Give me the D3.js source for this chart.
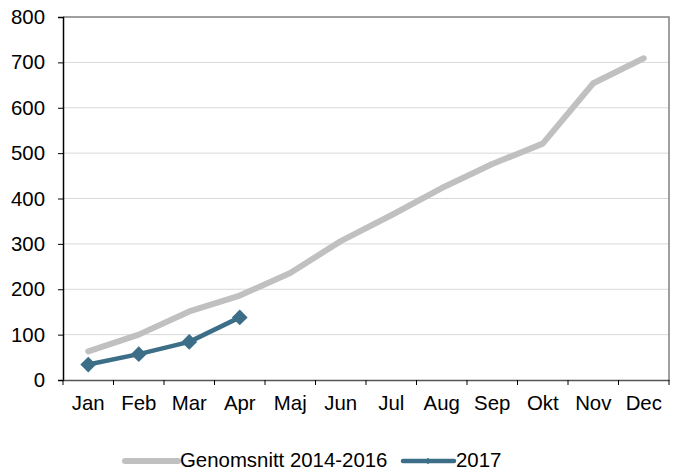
<!DOCTYPE html>
<html><head><meta charset="utf-8">
<script src="https://cdn.jsdelivr.net/npm/d3@7"></script>
<style>body{margin:0;background:#fff}text{font-family:"Liberation Sans",Arial,sans-serif}</style>
</head><body><svg id="c" width="678" height="473"></svg>
<script>
const months = ["Jan","Feb","Mar","Apr","Maj","Jun","Jul","Aug","Sep","Okt","Nov","Dec"];
const avgValues = [63,100,151,186,236,306,363,423,476,521,654,709];
const y2017Values = [34,57,84,138];
const yTicks = [0,100,200,300,400,500,600,700,800];
const seriesNames = ["Genomsnitt 2014-2016","2017"];

const svg = d3.select("#c");
const L=63,R=669,T=17,B=380;
const FS=20.4;
const x = d3.scaleBand().domain(months).range([L,R]);
const y = d3.scaleLinear().domain([0,800]).range([B,T]);

svg.append("g").selectAll("line").data(yTicks.filter(d=>d>0&&d<800)).join("line")
  .attr("x1",L).attr("x2",R).attr("y1",d=>y(d)).attr("y2",d=>y(d))
  .attr("stroke","#d9d9d9").attr("stroke-width",1);
svg.append("path").attr("d",`M${L},${T}H${R}V${B}`).attr("fill","none").attr("stroke","#808080").attr("stroke-width",1.5);

const ya = svg.append("g").attr("transform",`translate(${L},0)`)
  .call(d3.axisLeft(y).tickValues(yTicks).tickSize(5).tickPadding(13));
ya.select(".domain").attr("stroke","#000").attr("stroke-width",1.5);
ya.selectAll(".tick line").attr("stroke","#000");
ya.selectAll("text").attr("font-size",FS).attr("fill","#000").attr("font-family","Liberation Sans, Arial, sans-serif");

const xa = svg.append("g").attr("transform",`translate(0,${B})`)
  .call(d3.axisBottom(x).tickSize(0).tickPadding(16));
xa.select(".domain").attr("stroke","#555").attr("stroke-width",1.5);
xa.selectAll("text").attr("font-size",FS).attr("fill","#000").attr("font-family","Liberation Sans, Arial, sans-serif");
const bounds = months.map(m=>x(m)).concat([R]);
svg.append("g").selectAll("line").data(bounds).join("line")
  .attr("x1",d=>d).attr("x2",d=>d).attr("y1",B).attr("y2",B+5).attr("stroke","#000");

const cx = m=>x(m)+x.bandwidth()/2;
const line = d3.line().x((d,i)=>cx(months[i])).y(d=>y(d));
svg.append("path").datum(avgValues).attr("d",line).attr("fill","none")
  .attr("stroke","#c0c0c0").attr("stroke-width",6).attr("stroke-linecap","round").attr("stroke-linejoin","round");
svg.append("path").datum(y2017Values).attr("d",line).attr("fill","none")
  .attr("stroke","#3c6f87").attr("stroke-width",4.5).attr("stroke-linejoin","round");
svg.append("g").selectAll("path").data(y2017Values).join("path")
  .attr("transform",(d,i)=>`translate(${cx(months[i])},${y(d)}) rotate(45)`)
  .attr("d",d3.symbol().type(d3.symbolSquare).size(125)).attr("fill","#3c6f87");

const lg = svg.append("g");
lg.append("line").attr("x1",125).attr("x2",178).attr("y1",461).attr("y2",461)
  .attr("stroke","#c0c0c0").attr("stroke-width",6).attr("stroke-linecap","round");
lg.append("text").attr("x",180).attr("y",467).attr("font-size",FS).text(seriesNames[0]);
lg.append("line").attr("x1",403).attr("x2",454).attr("y1",461).attr("y2",461)
  .attr("stroke","#3c6f87").attr("stroke-width",4.5).attr("stroke-linecap","round");
lg.append("path").attr("transform","translate(428,461) rotate(45)")
  .attr("d",d3.symbol().type(d3.symbolSquare).size(22)).attr("fill","#3c6f87");
lg.append("text").attr("x",456).attr("y",467).attr("font-size",FS).text(seriesNames[1]);
</script></body></html>
